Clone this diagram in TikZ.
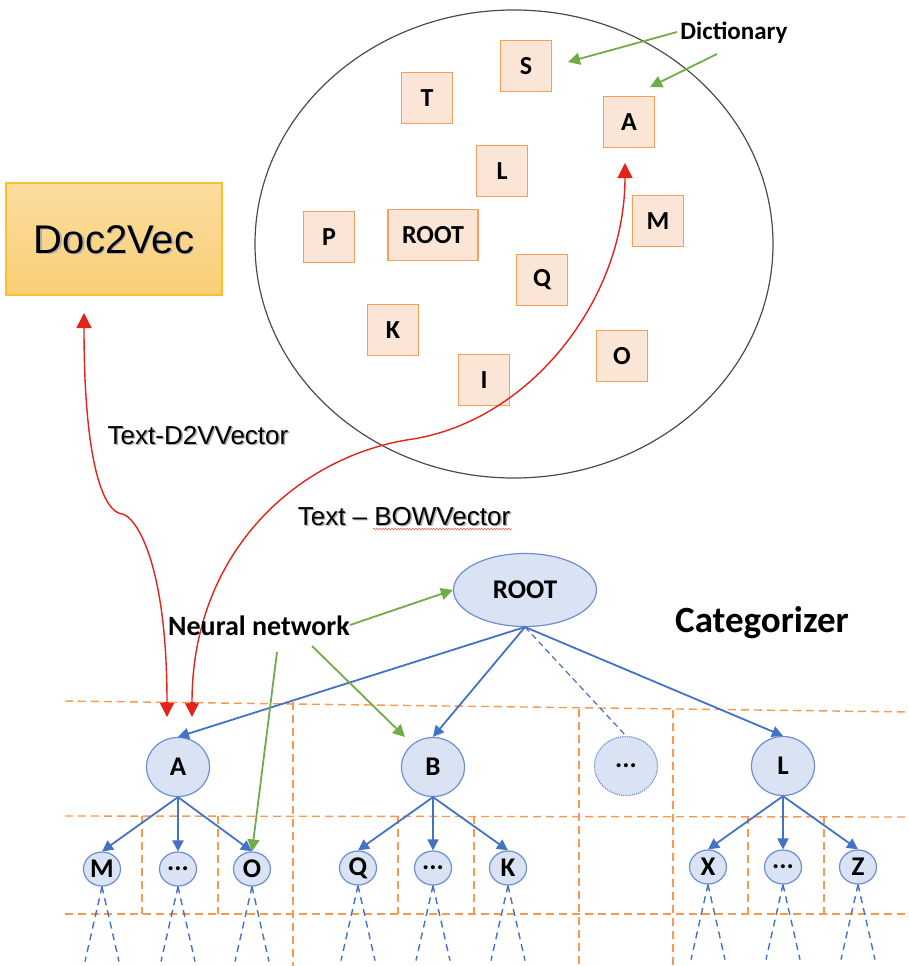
\documentclass[tikz,border=0pt]{standalone}
\usepackage{fontspec}
\setmainfont{Carlito}
\newfontfamily\arialf{Liberation Sans}
\usetikzlibrary{arrows.meta,shapes.geometric,decorations.pathmorphing}
\definecolor{boxfill}{HTML}{FBE5D6}
\definecolor{boxline}{HTML}{F4A05A}
\definecolor{tblue}{HTML}{4472C4}
\definecolor{tfill}{HTML}{DAE3F3}
\definecolor{tline}{HTML}{6E8FCF}
\definecolor{ogrid}{HTML}{F79A50}
\definecolor{ggreen}{HTML}{70AD47}
\definecolor{rred}{HTML}{E2231A}
\definecolor{dtop}{HTML}{FCDDA0}
\definecolor{dbot}{HTML}{F9CF75}
\definecolor{dline}{HTML}{FBC02D}
\newcommand{\shadowtext}[2][2pt]{\rlap{\kern#1\raisebox{-#1}{\color{black!32}#2}}#2}
\begin{document}
\begin{tikzpicture}[x=1pt,y=-1pt,
 wbox/.style={draw=boxline,fill=boxfill,line width=1.4pt,minimum width=51pt,minimum height=51pt,inner sep=0pt,font=\fontsize{26}{30}\selectfont\bfseries},
 tnode/.style={ellipse,draw=tline,fill=tfill,line width=1.2pt,inner sep=0pt,font=\fontsize{27}{31}\selectfont\bfseries},
 bignode/.style={tnode,minimum width=63pt,minimum height=59pt},
 smallnode/.style={tnode,minimum width=37pt,minimum height=34pt},
 tedge/.style={draw=tblue,line width=1.8pt,-{Triangle[width=11pt,length=11pt]}},
 gedge/.style={draw=ggreen,line width=1.8pt,-{Triangle[width=12pt,length=12pt]}},
 redge/.style={draw=rred,line width=1.4pt,{Triangle[width=15pt,length=15pt]}-{Triangle[width=15pt,length=15pt]}},
 gridline/.style={draw=ogrid,line width=1.4pt,dash pattern=on 8pt off 5pt},
 subline/.style={draw=tblue,line width=1.4pt,dash pattern=on 7pt off 5pt},
 lbl/.style={inner sep=0pt,font=\fontsize{25}{29}\selectfont\bfseries},
 albl/.style={inner sep=0pt,font=\arialf\fontsize{26}{30}\selectfont},
]
\useasboundingbox (0,0) rectangle (909,966);
\fill[white] (0,0) rectangle (909,966);

% dictionary circle
\draw[black!70,line width=1.2pt] (514,244) ellipse [x radius=259pt, y radius=234pt];

% word boxes
\node[wbox] (dS) at (526,66) {S};
\node[wbox] (dT) at (427,98) {T};
\node[wbox] (dA) at (629,122) {A};
\node[wbox] (dL) at (502,171) {L};
\node[wbox] (dM) at (658,221) {M};
\node[wbox] (dP) at (329,237) {P};
\node[wbox,minimum width=90pt] (dROOT) at (433,235) {ROOT};
\node[wbox] (dQ) at (542,280) {Q};
\node[wbox] (dK) at (393,330) {K};
\node[wbox] (dI) at (484,380) {I};
\node[wbox] (dO) at (622,356) {O};

% Dictionary label
\node[lbl] (dict) at (734,33) {Dictionary};
\coordinate (dg1s) at (677,32);
\coordinate (dg1e) at (568,62);
\coordinate (dg2s) at (717,54);
\coordinate (dg2e) at (650,87);
\draw[gedge] (dg1s) -- (dg1e);
\draw[gedge] (dg2s) -- (dg2e);

% Doc2Vec box
\shade[top color=dtop,bottom color=dbot] (6,183) rectangle (222,295);
\draw[dline,line width=1.3pt] (6,183) rectangle (222,295);
\node[inner sep=0pt,font=\arialf\fontsize{40}{46}\selectfont] (d2v) at (114,240) {\shadowtext[1.5pt]{Doc2Vec}};

% red arrows
\coordinate (r1a) at (84,313);
\coordinate (r1b) at (167,717);
\coordinate (r2a) at (625,163);
\coordinate (r2b) at (192,717);
\draw[redge] (r1a) .. controls (84,470) and (105,512) .. (122,514) .. controls (135,516) and (167,560) .. (r1b);
\draw[redge] (r2a) .. controls (625,300) and (530,420) .. (413,439) .. controls (300,455) and (192,550) .. (r2b);

\node[albl] (t1) at (198,436) {\shadowtext[1.5pt]{Text-D2VVector}};
\node[albl] (t2) at (404,517) {\shadowtext[1.5pt]{Text – BOWVector}};
\draw[rred!70,line width=0.6pt,decorate,decoration={snake,amplitude=0.8pt,segment length=3pt}] (373,529) -- (512,529);

% grid
\draw[gridline] (65,701) -- (909,712);
\draw[gridline] (65,816) -- (909,817);
\draw[gridline] (65,914) -- (909,914);
\draw[gridline] (293,702) -- (293,966);
\draw[gridline] (579,709) -- (579,966);
\draw[gridline] (673,710) -- (673,966);
\foreach \x in {142,218,398,474,748,824}{\draw[gridline] (\x,816) -- (\x,914);}

% tree
\node[tnode,minimum width=143pt,minimum height=73pt] (root) at (525,590) {ROOT};
\node[bignode] (A) at (178,767) {A};
\node[bignode] (B) at (433,767) {B};
\node[bignode,draw=tline,dash pattern=on 1.2pt off 1pt] (dots) at (626,766) {...};
\node[bignode] (L) at (783,766) {L};
\node[smallnode] (M) at (102,869) {M};
\node[smallnode] (a2) at (178,869) {...};
\node[smallnode] (O) at (252,869) {O};
\node[smallnode] (Q) at (358,868) {Q};
\node[smallnode] (b2) at (433,868) {...};
\node[smallnode] (K) at (508,868) {K};
\node[smallnode] (X) at (708,867) {X};
\node[smallnode] (l2) at (783,867) {...};
\node[smallnode] (Z) at (858,867) {Z};

\coordinate (rb) at (525,627);
\draw[tedge] (rb) -- (A.north);
\draw[tedge] (rb) -- (B.north);
\draw[tedge] (rb) -- (L.north);
\draw[draw=tblue,line width=1.2pt,dash pattern=on 6pt off 4pt] (rb) -- (dots.north);
\foreach \p/\c in {A/M,A/a2,A/O,B/Q,B/b2,B/K,L/X,L/l2,L/Z}{\draw[tedge] (\p.south) -- (\c.north);}
\foreach \c in {M,a2,O,Q,b2,K,X,l2,Z}{
  \path (\c.south) ++(-17,75) coordinate (\c l) (\c.south) ++(17,75) coordinate (\c r);
  \draw[subline] (\c.south) -- (\c l);
  \draw[subline] (\c.south) -- (\c r);
}

% labels
\node[lbl,font=\fontsize{28}{32}\selectfont\bfseries] (nn) at (259,626) {Neural network};
\node[lbl,font=\fontsize{37}{41}\selectfont\bfseries] (cat) at (762,623) {Categorizer};
\coordinate (g1) at (350,625);
\coordinate (g2) at (312,646);
\coordinate (g3) at (277,652);
\draw[gedge] (g1) -- (root.west);
\draw[gedge] (g2) -- (405,737);
\draw[gedge] (g3) -- (O.north);
\end{tikzpicture}
\end{document}
